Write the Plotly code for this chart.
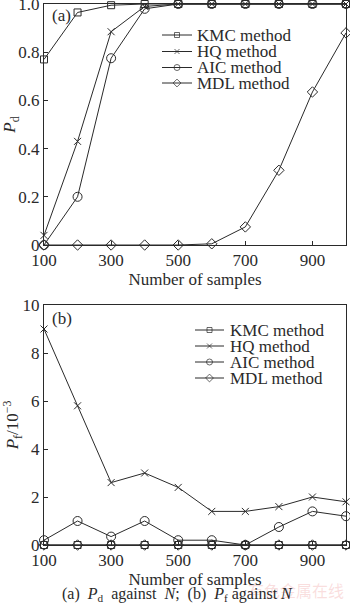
import plotly.graph_objects as go

N = [100, 200, 300, 400, 500, 600, 700, 800, 900, 1000]
methods = ["KMC method", "HQ method", "AIC method", "MDL method"]
symbols = ["square-open", "x-thin-open", "circle-open", "diamond-open"]
sizes = [7, 7, 9, 8]
leg_sizes = [5, 5, 6, 6]

pd_kmc = [0.77, 0.965, 0.995, 1.0, 1.0, 1.0, 1.0, 1.0, 1.0, 1.0]
pd_hq = [0.04, 0.43, 0.885, 0.99, 1.0, 1.0, 1.0, 1.0, 1.0, 1.0]
pd_aic = [0.0, 0.2, 0.775, 0.98, 1.0, 1.0, 1.0, 1.0, 1.0, 1.0]
pd_mdl = [0.0, 0.0, 0.0, 0.0, 0.0, 0.005, 0.075, 0.31, 0.635, 0.88]

pf_kmc = [0.0, 0.0, 0.0, 0.0, 0.0, 0.0, 0.0, 0.0, 0.0, 0.0]
pf_hq = [9.0, 5.8, 2.6, 3.0, 2.4, 1.4, 1.4, 1.6, 2.0, 1.8]
pf_aic = [0.2, 1.0, 0.35, 1.0, 0.2, 0.2, 0.0, 0.75, 1.4, 1.2]
pf_mdl = [0.0, 0.0, 0.0, 0.0, 0.0, 0.0, 0.0, 0.0, 0.0, 0.0]

x_ticks = [100, 300, 500, 700, 900]
pd_ticks = [0, 0.2, 0.4, 0.6, 0.8, 1.0]
pd_ticktext = ["0", "0.2", "0.4", "0.6", "0.8", "1.0"]
pf_ticks = [0, 2, 4, 6, 8, 10]

W, H = 350, 606
FONT = "Liberation Serif"
INK = "#2a2a2a"

fig = go.Figure()

for i, (ys, name) in enumerate(zip([pd_kmc, pd_hq, pd_aic, pd_mdl], methods)):
    fig.add_trace(go.Scatter(
        x=N, y=ys, name=name, mode="lines+markers", xaxis="x", yaxis="y",
        line=dict(color=INK, width=1), showlegend=False,
        marker=dict(symbol=symbols[i], size=sizes[i], color=INK, line=dict(width=1, color=INK)),
        cliponaxis=False))

for i, (ys, name) in enumerate(zip([pf_kmc, pf_hq, pf_aic, pf_mdl], methods)):
    fig.add_trace(go.Scatter(
        x=N, y=ys, name=name, mode="lines+markers", xaxis="x2", yaxis="y2",
        line=dict(color=INK, width=1), showlegend=False,
        marker=dict(symbol=symbols[i], size=sizes[i], color=INK, line=dict(width=1, color=INK)),
        cliponaxis=False))

# Legend boxes (pixel placement on an overlay axis spanning the page)
legends = [
    dict(x0=162, x1=192, tx=195, rows=[35, 51.5, 67.5, 83], size=17),
    dict(x0=195, x1=224, tx=228, rows=[330, 346, 362, 378], size=17),
]
for lg in legends:
    for i, name in enumerate(methods):
        yy = lg["rows"][i]
        xm = (lg["x0"] + lg["x1"]) / 2
        fig.add_trace(go.Scatter(
            x=[lg["x0"], xm, lg["x1"]], y=[yy, yy, yy], mode="lines+markers",
            xaxis="x3", yaxis="y3", showlegend=False, hoverinfo="skip",
            line=dict(color=INK, width=1),
            marker=dict(symbol=symbols[i], size=[0, leg_sizes[i], 0], color=INK,
                        line=dict(width=1, color=INK)),
            cliponaxis=False))
        fig.add_annotation(text=name, x=lg["tx"], y=yy, xref="x3", yref="y3",
                           xanchor="left", yanchor="middle", showarrow=False,
                           font=dict(family=FONT, size=lg["size"], color=INK))

xdom = [44 / W, 346 / W]
ya = [1 - 245 / H, 1 - 4 / H]
yb = [1 - 545 / H, 1 - 305 / H]

axis_common = dict(showline=True, linecolor=INK, linewidth=1, mirror=True, automargin=False,
                   ticks="inside", ticklen=4, tickcolor=INK, showgrid=False, zeroline=False,
                   ticklabeloverflow="allow",
                   tickfont=dict(family=FONT, size=17, color=INK))

fig.update_layout(
    width=W, height=H, margin=dict(l=0, r=0, t=0, b=0, autoexpand=False),
    paper_bgcolor="white", plot_bgcolor="rgba(0,0,0,0)",
    font=dict(family=FONT, size=16, color=INK),
    showlegend=False,
    xaxis=dict(domain=xdom, anchor="y", range=[100, 1000], tickvals=x_ticks,
               title=dict(text="Number of samples", font=dict(family=FONT, size=17), standoff=2),
               **axis_common),
    yaxis=dict(domain=ya, anchor="x", range=[0, 1], tickvals=pd_ticks, ticktext=pd_ticktext,
               title=dict(text="<i>P</i><sub>d</sub>", font=dict(family=FONT, size=17), standoff=4),
               **axis_common),
    xaxis2=dict(domain=xdom, anchor="y2", range=[100, 1000], tickvals=x_ticks,
                title=dict(text="Number of samples", font=dict(family=FONT, size=17), standoff=2),
                **axis_common),
    yaxis2=dict(domain=yb, anchor="x2", range=[0, 10], tickvals=pf_ticks,
                title=dict(text="<i>P</i><sub>f</sub>/10<sup>−3</sup>", font=dict(family=FONT, size=17), standoff=4),
                **axis_common),
    xaxis3=dict(domain=[0, 1], anchor="y3", range=[0, W], visible=False, fixedrange=True),
    yaxis3=dict(domain=[0, 1], anchor="x3", range=[H, 0], visible=False, fixedrange=True),
)

fig.add_annotation(text="(a)", x=50 / W, y=1 - 16 / H, xref="paper", yref="paper",
                   xanchor="left", yanchor="middle", showarrow=False,
                   font=dict(family=FONT, size=17, color=INK))
fig.add_annotation(text="(b)", x=50 / W, y=1 - 318 / H, xref="paper", yref="paper",
                   xanchor="left", yanchor="middle", showarrow=False,
                   font=dict(family=FONT, size=17, color=INK))
fig.add_annotation(text="有色金属在线", x=346 / W, y=1 - 590 / H, xref="paper", yref="paper",
                   xanchor="right", yanchor="middle", showarrow=False,
                   font=dict(family="Noto Sans CJK SC", size=16, color="rgba(240,160,160,0.35)"))
fig.add_annotation(text="(a)  <i>P</i><sub>d</sub>  against  <i>N</i>;  (b)  <i>P</i><sub>f</sub> against <i>N</i>",
                   x=60 / W, y=1 - 594 / H, xref="paper", yref="paper",
                   xanchor="left", yanchor="middle", showarrow=False,
                   font=dict(family=FONT, size=16, color=INK))

fig.write_html("out.html")
